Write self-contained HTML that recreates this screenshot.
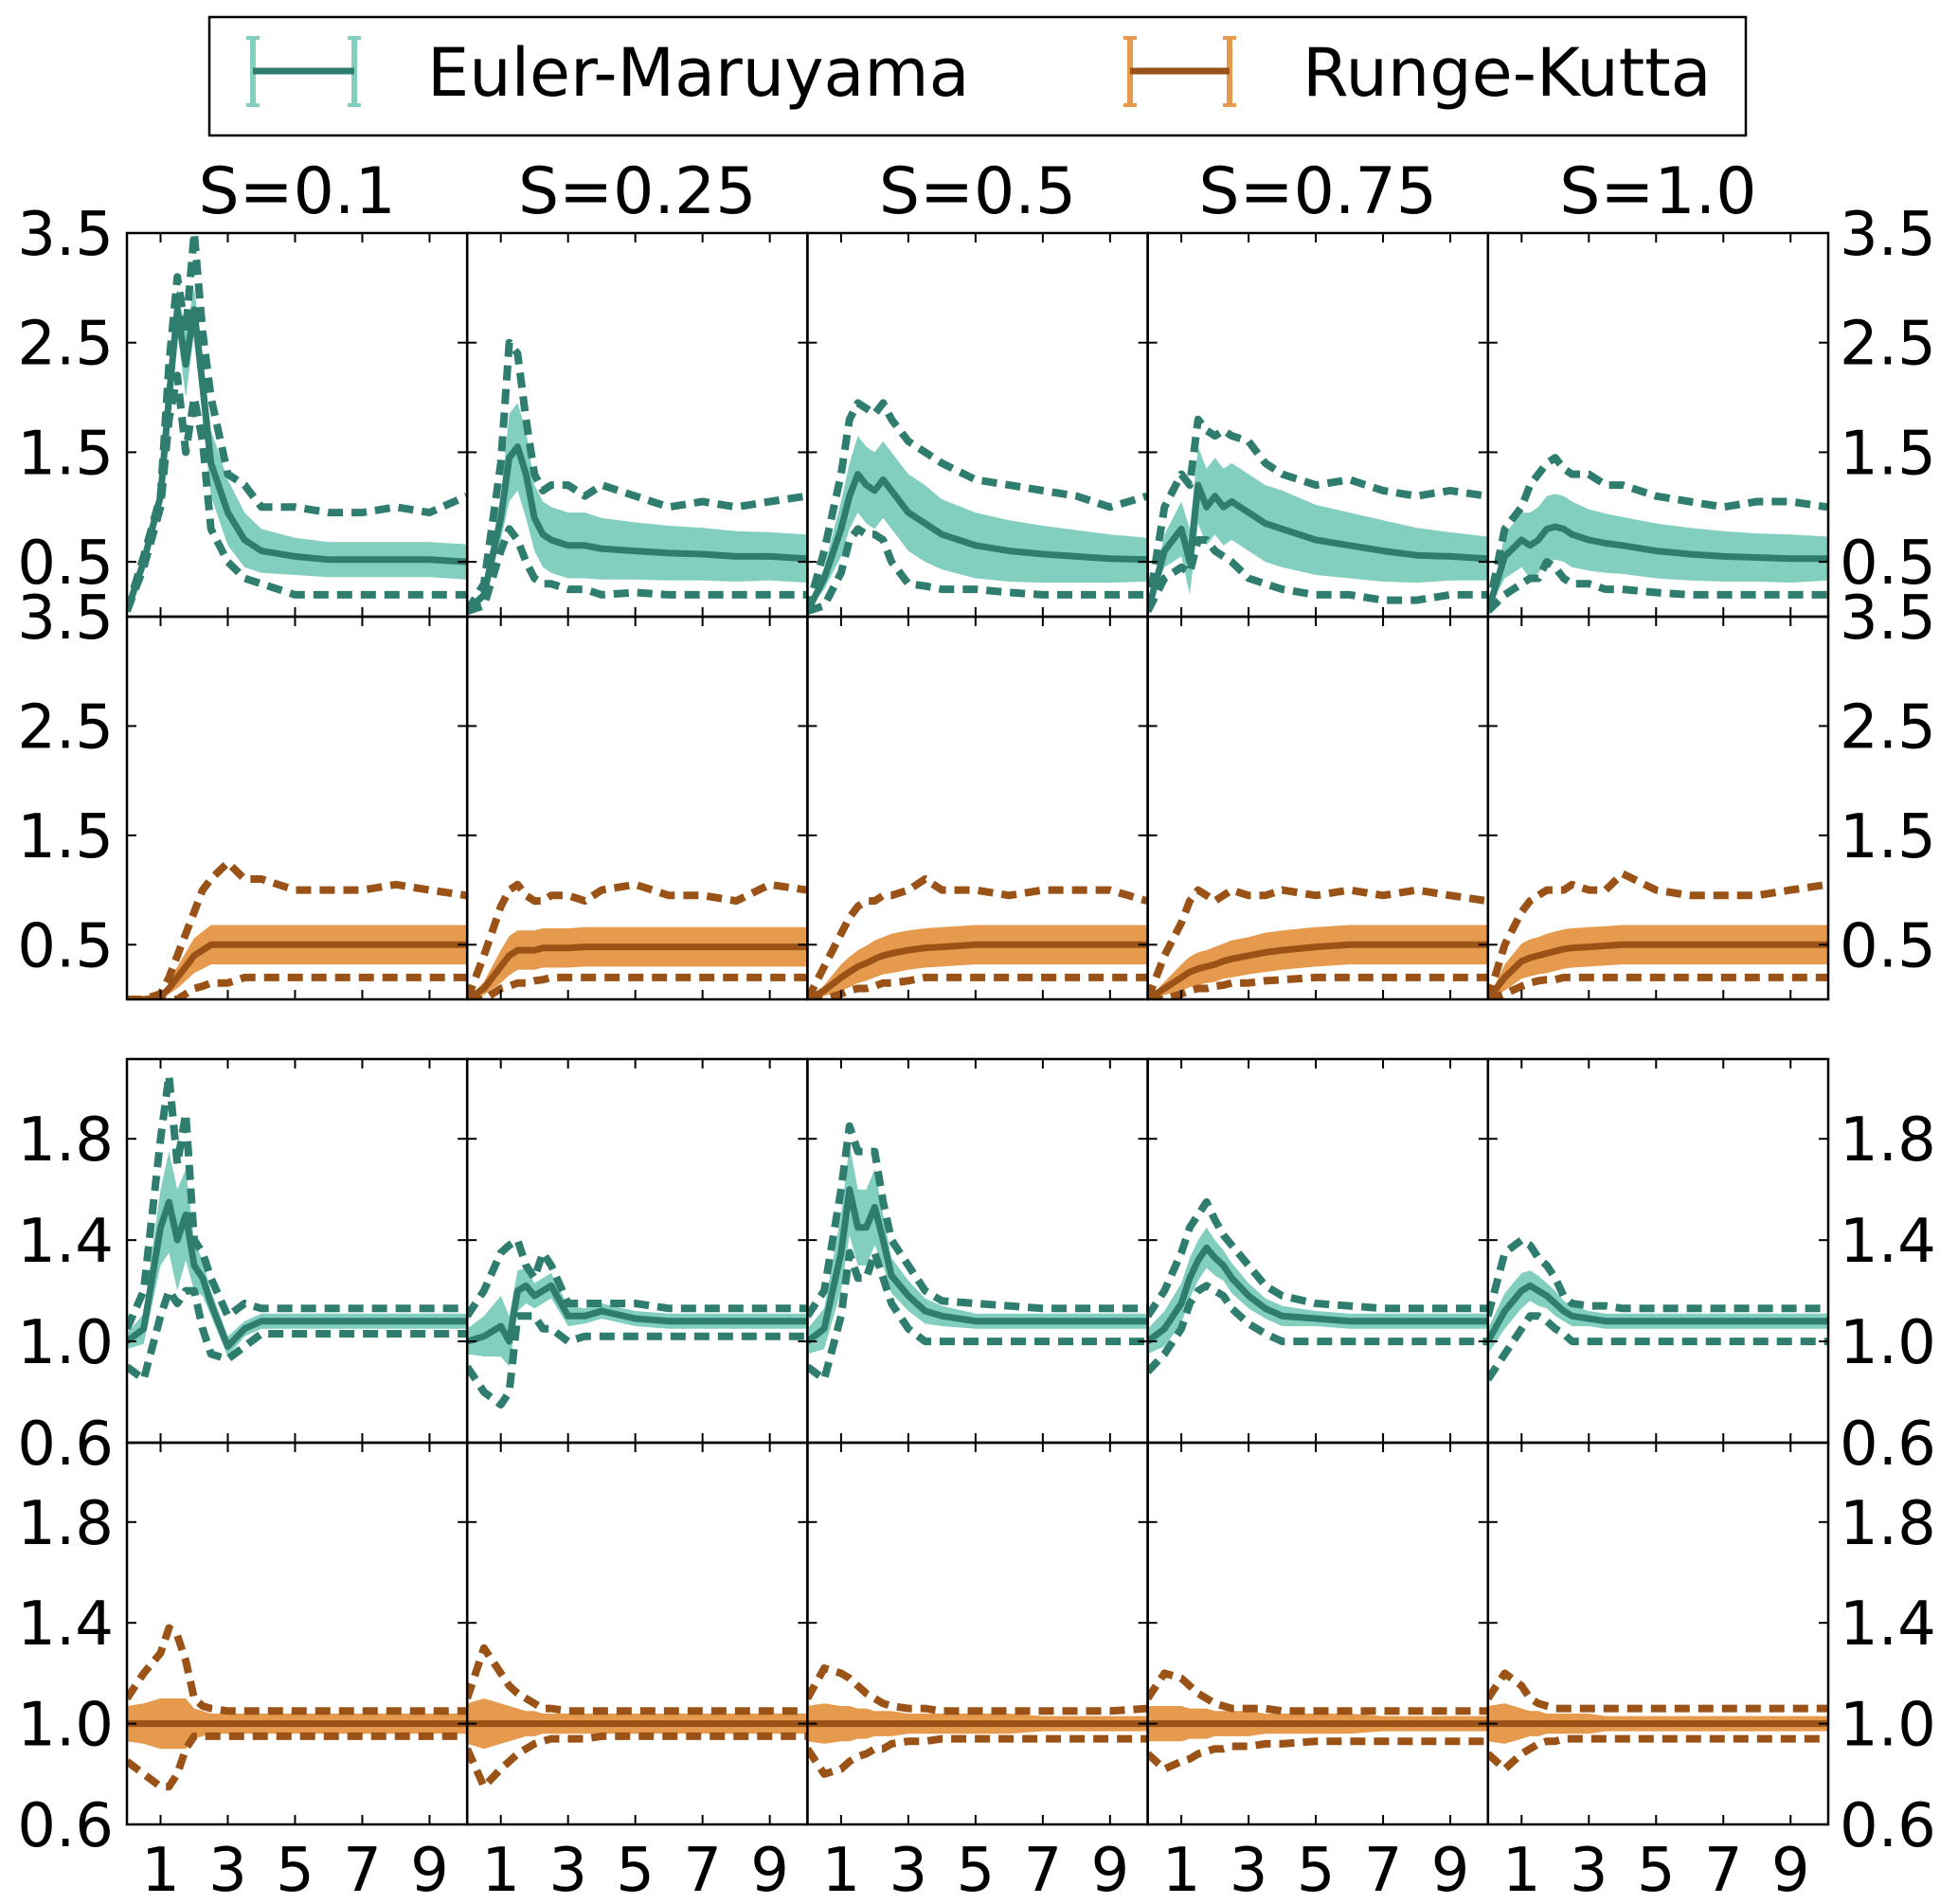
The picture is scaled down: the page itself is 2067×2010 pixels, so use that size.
<!DOCTYPE html>
<html><head><meta charset="utf-8"><style>
html,body{margin:0;padding:0;background:#fff;}
svg{display:block;font-family:"DejaVu Sans","Liberation Sans",sans-serif;}
</style></head><body>
<svg id="chart" width="2067" height="2010" viewBox="0 0 2067 2010" xmlns="http://www.w3.org/2000/svg">
<g>
<rect x="221" y="18" width="1622" height="125" fill="#fff" stroke="#000" stroke-width="2.5"/>
<g>
<line x1="267" y1="40" x2="267" y2="111" stroke="#82cfc0" stroke-width="6"/>
<line x1="374" y1="40" x2="374" y2="111" stroke="#82cfc0" stroke-width="6"/>
<line x1="260" y1="40" x2="274" y2="40" stroke="#82cfc0" stroke-width="4"/>
<line x1="260" y1="111" x2="274" y2="111" stroke="#82cfc0" stroke-width="4"/>
<line x1="367" y1="40" x2="381" y2="40" stroke="#82cfc0" stroke-width="4"/>
<line x1="367" y1="111" x2="381" y2="111" stroke="#82cfc0" stroke-width="4"/>
<line x1="267" y1="75" x2="374" y2="75" stroke="#2e7d6e" stroke-width="7"/>
<text x="451" y="101" font-size="70">Euler-Maruyama</text>
</g>
<g>
<line x1="1193" y1="40" x2="1193" y2="111" stroke="#e69a4e" stroke-width="6"/>
<line x1="1298" y1="40" x2="1298" y2="111" stroke="#e69a4e" stroke-width="6"/>
<line x1="1186" y1="40" x2="1200" y2="40" stroke="#e69a4e" stroke-width="4"/>
<line x1="1186" y1="111" x2="1200" y2="111" stroke="#e69a4e" stroke-width="4"/>
<line x1="1291" y1="40" x2="1305" y2="40" stroke="#e69a4e" stroke-width="4"/>
<line x1="1291" y1="111" x2="1305" y2="111" stroke="#e69a4e" stroke-width="4"/>
<line x1="1193" y1="75" x2="1298" y2="75" stroke="#9a5217" stroke-width="7"/>
<text x="1375" y="101" font-size="70">Runge-Kutta</text>
</g>
</g>
</svg>
<script>
const xs = [0,0.5,1,1.25,1.5,1.75,2,2.25,2.5,3,3.5,4,5,6,7,8,9,10.1];
const sLabels = ["S=0.1","S=0.25","S=0.5","S=0.75","S=1.0"];
const xTicks = [1,3,5,7,9];
const yTicksA = [0.5,1.5,2.5,3.5];
const yTicksB = [0.6,1.0,1.4,1.8];
const yTickLabelsA = ["0.5","1.5","2.5","3.5"];
const yTickLabelsB = ["0.6","1.0","1.4","1.8"];

const r1Mean = [
[0.05,0.5,1.1,2.0,2.8,2.3,2.8,2.1,1.4,0.95,0.7,0.6,0.55,0.52,0.52,0.52,0.52,0.5],
[0.05,0.2,0.9,1.45,1.55,1.3,0.9,0.75,0.7,0.65,0.65,0.62,0.6,0.58,0.57,0.55,0.55,0.53],
[0.05,0.35,0.8,1.1,1.3,1.2,1.15,1.25,1.15,0.95,0.85,0.75,0.65,0.6,0.57,0.55,0.53,0.52],
[0.05,0.6,0.8,0.5,1.2,1.0,1.1,1.0,1.05,0.95,0.85,0.8,0.7,0.65,0.6,0.56,0.55,0.53],
[0.05,0.55,0.7,0.65,0.7,0.8,0.82,0.8,0.75,0.7,0.67,0.65,0.6,0.57,0.55,0.54,0.53,0.53]];
const r1Band = [
[0,0.05,0.1,0.2,0.2,0.3,0.2,0.3,0.3,0.3,0.25,0.2,0.17,0.16,0.16,0.16,0.16,0.16],
[0,0.05,0.2,0.4,0.4,0.4,0.3,0.3,0.3,0.3,0.3,0.28,0.26,0.25,0.24,0.23,0.22,0.22],
[0,0.1,0.25,0.3,0.35,0.35,0.35,0.35,0.35,0.35,0.35,0.32,0.3,0.28,0.26,0.24,0.22,0.2],
[0,0.15,0.25,0.3,0.35,0.35,0.35,0.35,0.35,0.35,0.35,0.35,0.32,0.3,0.28,0.25,0.22,0.2],
[0,0.2,0.25,0.3,0.3,0.3,0.3,0.3,0.3,0.28,0.27,0.26,0.25,0.24,0.23,0.22,0.22,0.2]];
const r1Hi = [
[0.05,0.55,1.1,2.3,3.1,2.6,3.5,2.6,2.0,1.3,1.2,1.0,1.0,0.95,0.95,1.0,0.95,1.1],
[0.05,0.3,1.4,2.5,2.4,1.8,1.3,1.15,1.2,1.2,1.1,1.2,1.1,1.0,1.05,1.0,1.05,1.1],
[0.05,0.6,1.3,1.8,1.95,1.9,1.85,1.95,1.8,1.6,1.5,1.4,1.25,1.2,1.15,1.1,1.0,1.1],
[0.05,1.0,1.3,1.2,1.8,1.7,1.65,1.7,1.65,1.6,1.4,1.3,1.2,1.25,1.15,1.1,1.15,1.1],
[0.05,0.8,1.0,1.2,1.3,1.4,1.45,1.35,1.3,1.3,1.2,1.2,1.1,1.05,1.0,1.05,1.05,1.0]];
const r1Lo = [
[0.05,0.45,1.0,1.8,2.2,1.5,2.0,1.6,0.8,0.5,0.35,0.3,0.2,0.2,0.2,0.2,0.2,0.2],
[0.05,0.1,0.6,0.8,0.7,0.5,0.35,0.3,0.3,0.25,0.25,0.2,0.22,0.2,0.2,0.2,0.2,0.2],
[0.05,0.1,0.4,0.7,0.8,0.75,0.75,0.7,0.5,0.3,0.28,0.25,0.25,0.22,0.2,0.2,0.2,0.2],
[0.05,0.35,0.45,0.4,0.7,0.7,0.6,0.55,0.5,0.35,0.3,0.25,0.2,0.2,0.15,0.15,0.2,0.2],
[0.05,0.2,0.3,0.35,0.35,0.5,0.45,0.35,0.3,0.3,0.25,0.25,0.22,0.2,0.2,0.2,0.2,0.2]];

const r2Mean = [
[0,0,0.02,0.1,0.2,0.3,0.4,0.45,0.5,0.5,0.5,0.5,0.5,0.5,0.5,0.5,0.5,0.5],
[0,0.1,0.3,0.4,0.45,0.45,0.45,0.47,0.47,0.47,0.48,0.48,0.48,0.48,0.48,0.48,0.48,0.48],
[0,0.08,0.2,0.25,0.3,0.33,0.37,0.4,0.42,0.45,0.47,0.48,0.5,0.5,0.5,0.5,0.5,0.5],
[0,0.1,0.2,0.25,0.28,0.3,0.32,0.35,0.37,0.4,0.43,0.45,0.48,0.5,0.5,0.5,0.5,0.5],
[0,0.2,0.35,0.38,0.4,0.42,0.44,0.46,0.47,0.48,0.49,0.5,0.5,0.5,0.5,0.5,0.5,0.5]];
const r2Band = [
[0,0,0.01,0.05,0.1,0.13,0.16,0.17,0.18,0.18,0.18,0.18,0.18,0.18,0.18,0.18,0.18,0.18],
[0,0.06,0.15,0.18,0.18,0.18,0.18,0.18,0.18,0.18,0.18,0.18,0.18,0.18,0.18,0.18,0.18,0.18],
[0,0.05,0.12,0.14,0.15,0.16,0.17,0.17,0.18,0.18,0.18,0.18,0.18,0.18,0.18,0.18,0.18,0.18],
[0,0.06,0.12,0.14,0.15,0.15,0.16,0.16,0.17,0.17,0.18,0.18,0.18,0.18,0.18,0.18,0.18,0.18],
[0,0.12,0.16,0.17,0.17,0.18,0.18,0.18,0.18,0.18,0.18,0.18,0.18,0.18,0.18,0.18,0.18,0.18]];
const r2Hi = [
[0,0,0.05,0.2,0.4,0.6,0.8,1.0,1.1,1.25,1.1,1.1,1.0,1.0,1.0,1.05,1.0,0.95],
[0,0.4,0.85,1.0,1.05,0.95,0.9,0.9,0.95,0.95,0.9,1.0,1.05,0.95,0.95,0.9,1.05,1.0],
[0,0.3,0.6,0.75,0.85,0.9,0.9,0.95,0.95,1.0,1.1,1.0,1.0,0.95,1.0,1.0,1.0,0.9],
[0,0.4,0.7,0.9,1.0,0.95,0.9,0.95,1.0,0.95,0.95,1.0,0.95,1.0,0.95,1.0,0.95,0.9],
[0,0.5,0.8,0.9,0.95,1.0,1.0,1.0,1.05,1.0,1.0,1.15,1.0,0.95,0.95,0.95,1.0,1.05]];
const r2Lo = [
[0,0,0,0,0,0.05,0.1,0.12,0.15,0.15,0.2,0.2,0.2,0.2,0.2,0.2,0.2,0.2],
[0,0,0.1,0.12,0.15,0.15,0.17,0.18,0.2,0.2,0.2,0.2,0.2,0.2,0.2,0.2,0.2,0.2],
[0,0,0.05,0.08,0.1,0.1,0.12,0.15,0.15,0.17,0.2,0.2,0.2,0.2,0.2,0.2,0.2,0.2],
[0,0,0.05,0.08,0.1,0.1,0.12,0.13,0.15,0.15,0.17,0.18,0.2,0.2,0.2,0.2,0.2,0.2],
[0,0.05,0.12,0.15,0.17,0.18,0.18,0.2,0.2,0.2,0.2,0.2,0.2,0.2,0.2,0.2,0.2,0.2]];

const r3Mean = [
[1.0,1.05,1.45,1.55,1.4,1.5,1.3,1.25,1.15,0.98,1.05,1.08,1.08,1.08,1.08,1.08,1.08,1.08],
[1.0,1.02,1.06,1.0,1.2,1.22,1.18,1.2,1.22,1.1,1.1,1.12,1.09,1.08,1.08,1.08,1.08,1.08],
[1.0,1.05,1.35,1.6,1.45,1.45,1.53,1.4,1.26,1.18,1.12,1.1,1.08,1.08,1.08,1.08,1.08,1.08],
[1.0,1.05,1.15,1.25,1.32,1.37,1.33,1.3,1.25,1.18,1.13,1.1,1.09,1.08,1.08,1.08,1.08,1.08],
[1.0,1.12,1.2,1.22,1.2,1.18,1.15,1.12,1.1,1.09,1.08,1.08,1.08,1.08,1.08,1.08,1.08,1.08]];
const r3Band = [
[0.03,0.06,0.15,0.2,0.2,0.18,0.1,0.07,0.05,0.04,0.03,0.03,0.03,0.03,0.03,0.03,0.03,0.03],
[0.05,0.08,0.12,0.1,0.08,0.07,0.05,0.05,0.05,0.04,0.03,0.03,0.03,0.03,0.03,0.03,0.03,0.03],
[0.05,0.08,0.15,0.18,0.15,0.15,0.15,0.1,0.07,0.06,0.05,0.04,0.03,0.03,0.03,0.03,0.03,0.03],
[0.05,0.07,0.08,0.08,0.08,0.08,0.07,0.06,0.06,0.05,0.04,0.04,0.03,0.03,0.03,0.03,0.03,0.03],
[0.05,0.07,0.07,0.06,0.06,0.05,0.05,0.04,0.04,0.03,0.03,0.03,0.03,0.03,0.03,0.03,0.03,0.03]];
const r3Hi = [
[1.05,1.2,1.8,2.05,1.7,1.9,1.4,1.35,1.25,1.1,1.15,1.13,1.13,1.13,1.13,1.13,1.13,1.13],
[1.1,1.2,1.35,1.38,1.4,1.3,1.25,1.35,1.3,1.15,1.15,1.15,1.15,1.13,1.13,1.13,1.13,1.13],
[1.1,1.2,1.6,1.85,1.75,1.75,1.75,1.55,1.4,1.3,1.2,1.16,1.15,1.14,1.13,1.13,1.13,1.13],
[1.1,1.2,1.35,1.45,1.5,1.55,1.48,1.42,1.38,1.3,1.22,1.18,1.15,1.14,1.13,1.13,1.13,1.13],
[1.1,1.35,1.4,1.38,1.33,1.3,1.25,1.18,1.15,1.14,1.14,1.13,1.13,1.13,1.13,1.13,1.13,1.13]];
const r3Lo = [
[0.9,0.85,1.1,1.2,1.15,1.2,1.2,1.05,0.95,0.93,0.98,1.03,1.03,1.03,1.03,1.03,1.03,1.03],
[0.9,0.8,0.75,0.8,1.1,1.1,1.1,1.05,1.05,1.0,1.02,1.02,1.02,1.02,1.02,1.02,1.02,1.02],
[0.9,0.85,1.1,1.35,1.25,1.25,1.35,1.25,1.15,1.05,1.0,1.0,1.0,1.0,1.0,1.0,1.0,1.0],
[0.88,0.95,1.05,1.15,1.2,1.22,1.2,1.18,1.13,1.07,1.03,1.0,1.0,1.0,1.0,1.0,1.0,1.0],
[0.85,0.95,1.05,1.1,1.1,1.08,1.05,1.03,1.0,1.0,1.0,1.0,1.0,1.0,1.0,1.0,1.0,1.0]];

const r4Mean = [
[1,1,1,1,1,1,1,1,1,1,1,1,1,1,1,1,1,1],
[1,1,1,1,1,1,1,1,1,1,1,1,1,1,1,1,1,1],
[1,1,1,1,1,1,1,1,1,1,1,1,1,1,1,1,1,1],
[1,1,1,1,1,1,1,1,1,1,1,1,1,1,1,1,1,1],
[1,1,1,1,1,1,1,1,1,1,1,1,1,1,1,1,1,1]];
const r4Band = [
[0.07,0.08,0.1,0.1,0.1,0.1,0.06,0.05,0.04,0.04,0.04,0.04,0.04,0.04,0.04,0.04,0.04,0.04],
[0.08,0.1,0.08,0.07,0.06,0.05,0.05,0.04,0.04,0.04,0.04,0.04,0.04,0.04,0.04,0.04,0.04,0.04],
[0.07,0.08,0.07,0.07,0.06,0.06,0.05,0.05,0.05,0.04,0.04,0.04,0.04,0.04,0.03,0.03,0.03,0.03],
[0.07,0.07,0.07,0.06,0.06,0.06,0.05,0.05,0.05,0.05,0.04,0.04,0.04,0.04,0.03,0.03,0.03,0.03],
[0.07,0.08,0.06,0.05,0.05,0.04,0.04,0.04,0.04,0.04,0.03,0.03,0.03,0.03,0.03,0.03,0.03,0.03]];
const r4Hi = [
[1.1,1.2,1.28,1.38,1.35,1.25,1.1,1.07,1.06,1.05,1.05,1.05,1.05,1.05,1.05,1.05,1.05,1.05],
[1.1,1.3,1.2,1.15,1.12,1.1,1.08,1.06,1.06,1.05,1.05,1.05,1.05,1.05,1.05,1.05,1.05,1.05],
[1.1,1.22,1.2,1.18,1.15,1.12,1.1,1.08,1.07,1.06,1.06,1.05,1.05,1.05,1.05,1.05,1.05,1.06],
[1.1,1.2,1.18,1.15,1.12,1.1,1.08,1.07,1.06,1.06,1.06,1.05,1.05,1.05,1.05,1.05,1.05,1.05],
[1.1,1.2,1.15,1.1,1.08,1.07,1.06,1.06,1.06,1.06,1.06,1.06,1.06,1.06,1.06,1.06,1.06,1.06]];
const r4Lo = [
[0.85,0.8,0.75,0.75,0.8,0.9,0.95,0.95,0.95,0.95,0.95,0.95,0.95,0.95,0.95,0.95,0.95,0.95],
[0.9,0.75,0.82,0.85,0.88,0.9,0.92,0.93,0.94,0.94,0.94,0.95,0.95,0.95,0.95,0.95,0.95,0.95],
[0.9,0.8,0.82,0.85,0.87,0.88,0.9,0.9,0.92,0.93,0.93,0.94,0.94,0.94,0.94,0.94,0.94,0.94],
[0.88,0.82,0.85,0.86,0.88,0.89,0.9,0.9,0.91,0.91,0.92,0.92,0.93,0.93,0.93,0.93,0.93,0.93],
[0.88,0.82,0.88,0.9,0.92,0.93,0.93,0.94,0.94,0.94,0.94,0.94,0.94,0.94,0.94,0.94,0.94,0.94]];

const NS = "http://www.w3.org/2000/svg";
const svg = document.getElementById("chart");
const colX = [134,493.2,852.4,1211.6,1570.8,1930];
const rows = [
 {top:246,bot:651,ymin:0,ymax:3.5,mean:r1Mean,band:r1Band,hi:r1Hi,lo:r1Lo,dark:"#2e7d6e",light:"#82cfc0",ticks:yTicksA,labels:yTickLabelsA,name:"euler-maruyama-top"},
 {top:651,bot:1055,ymin:0,ymax:3.5,mean:r2Mean,band:r2Band,hi:r2Hi,lo:r2Lo,dark:"#9a5217",light:"#e69a4e",ticks:yTicksA,labels:yTickLabelsA,name:"runge-kutta-top"},
 {top:1118,bot:1523,ymin:0.6,ymax:2.115,mean:r3Mean,band:r3Band,hi:r3Hi,lo:r3Lo,dark:"#2e7d6e",light:"#82cfc0",ticks:yTicksB,labels:yTickLabelsB,name:"euler-maruyama-bottom"},
 {top:1523,bot:1926,ymin:0.6,ymax:2.115,mean:r4Mean,band:r4Band,hi:r4Hi,lo:r4Lo,dark:"#9a5217",light:"#e69a4e",ticks:yTicksB,labels:yTickLabelsB,name:"runge-kutta-bottom"}
];
function mk(tag, attrs){const e=document.createElementNS(NS,tag);for(const k in attrs)e.setAttribute(k,attrs[k]);return e;}
const XMAX = 10.12;

rows.forEach((r,ri)=>{
  for(let c=0;c<5;c++){
    const x0=colX[c], x1=colX[c+1];
    const sx=v=>x0+(v/XMAX)*(x1-x0);
    const sy=v=>r.bot-(v-r.ymin)/(r.ymax-r.ymin)*(r.bot-r.top);
    const g=mk("g",{});
    
    
    const clipId="clip"+ri+"_"+c;
    const cp=mk("clipPath",{id:clipId});
    cp.appendChild(mk("rect",{x:x0,y:r.top,width:x1-x0,height:r.bot-r.top}));
    g.appendChild(cp);
    const inner=mk("g",{"clip-path":"url(#"+clipId+")"});
    const m=r.mean[c], b=r.band[c];
    let d="";
    xs.forEach((x,i)=>{d+=(i?"L":"M")+sx(x).toFixed(1)+","+sy(m[i]+b[i]).toFixed(1);});
    for(let i=xs.length-1;i>=0;i--) d+="L"+sx(xs[i]).toFixed(1)+","+sy(m[i]-b[i]).toFixed(1);
    const band=mk("path",{d:d+"Z",fill:r.light,stroke:"none"});
    
    
    inner.appendChild(band);
    const line=(arr,dash)=>{
      let p="";xs.forEach((x,i)=>{p+=(i?"L":"M")+sx(x).toFixed(1)+","+sy(arr[i]).toFixed(1);});
      const el=mk("path",{d:p,fill:"none",stroke:r.dark,"stroke-width":dash?8:7,"stroke-linejoin":"round"});
      if(dash) el.setAttribute("stroke-dasharray","16 9");
      return el;
    };
    const hi=line(r.hi[c],true);
    
    
    inner.appendChild(hi);
    const lo=line(r.lo[c],true);
    
    
    inner.appendChild(lo);
    const ml=line(m,false);
    
    
    inner.appendChild(ml);
    g.appendChild(inner);
    const fr=mk("rect",{x:x0,y:r.top,width:x1-x0,height:r.bot-r.top,fill:"none",stroke:"#000","stroke-width":2.5});
    
    
    g.appendChild(fr);
    xTicks.forEach(t=>{
      const X=sx(t);
      g.appendChild(mk("line",{x1:X,y1:r.bot,x2:X,y2:r.bot-10,stroke:"#000","stroke-width":2}));
      g.appendChild(mk("line",{x1:X,y1:r.top,x2:X,y2:r.top+10,stroke:"#000","stroke-width":2}));
    });
    r.ticks.forEach(t=>{
      const Y=sy(t);
      g.appendChild(mk("line",{x1:x0,y1:Y,x2:x0+10,y2:Y,stroke:"#000","stroke-width":2}));
      g.appendChild(mk("line",{x1:x1,y1:Y,x2:x1-10,y2:Y,stroke:"#000","stroke-width":2}));
    });
    svg.appendChild(g);
    if(ri===0){
      const t=mk("text",{x:(x0+x1)/2,y:225,"font-size":68,"text-anchor":"middle"});
      t.textContent=sLabels[c];
      
      
      svg.appendChild(t);
    }
    if(ri===3){
      xTicks.forEach(tv=>{
        const t=mk("text",{x:sx(tv),y:1996,"font-size":64,"text-anchor":"middle"});
        t.textContent=String(tv);
        
        
        svg.appendChild(t);
      });
    }
  }
  const sy=v=>r.bot-(v-r.ymin)/(r.ymax-r.ymin)*(r.bot-r.top);
  r.ticks.forEach((tv,i)=>{
    const L=mk("text",{x:120,y:sy(tv)+23,"font-size":64,"text-anchor":"end"});
    L.textContent=r.labels[i];
    
    
    svg.appendChild(L);
    const R=mk("text",{x:1942,y:sy(tv)+23,"font-size":64,"text-anchor":"start"});
    R.textContent=r.labels[i];
    
    
    svg.appendChild(R);
  });
});
</script>
</body></html>
